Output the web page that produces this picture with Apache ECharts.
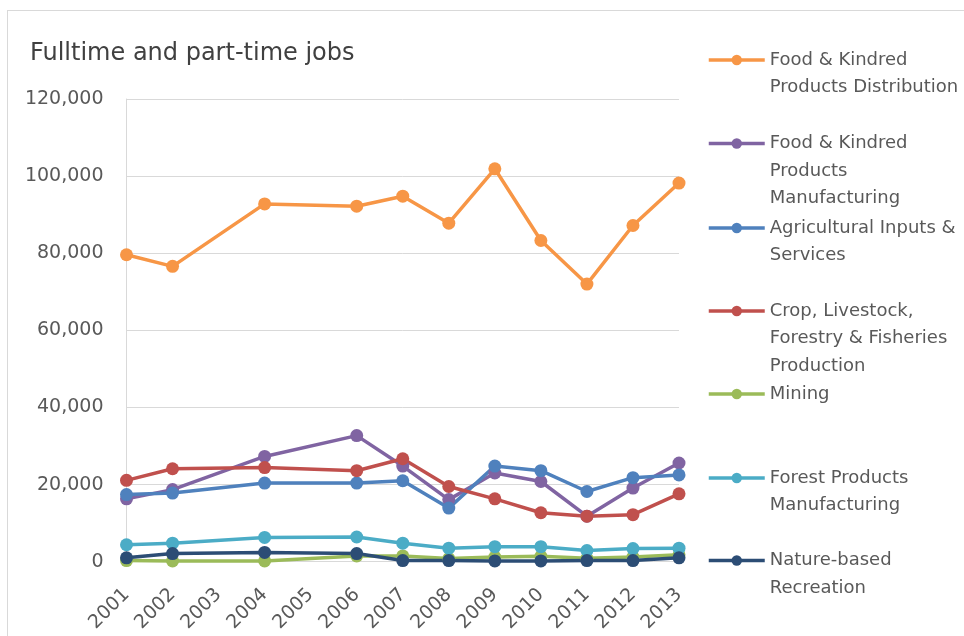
<!DOCTYPE html>
<html>
<head>
<meta charset="utf-8">
<script src="https://cdn.jsdelivr.net/npm/echarts@6/dist/echarts.min.js"></script>
<style>
html,body{margin:0;padding:0;background:#fff;}
#wrap{position:relative;width:964px;height:636px;overflow:hidden;}
#frame{position:absolute;left:7px;top:10px;width:1000px;height:700px;border:1px solid #d9d9d9;box-sizing:border-box;}
#chart{position:absolute;left:0;top:0;width:964px;height:636px;}
</style>
</head>
<body>
<div id="wrap"><div id="frame"></div><div id="chart"></div></div>
<script>
const years = ['2001','2002','2003','2004','2005','2006','2007','2008','2009','2010','2011','2012','2013'];
const yTicks = [0, 20000, 40000, 60000, 80000, 100000, 120000];

const seriesNames = [
  'Food & Kindred Products Distribution',
  'Food & Kindred Products Manufacturing',
  'Agricultural Inputs & Services',
  'Crop, Livestock, Forestry & Fisheries Production',
  'Mining',
  'Forest Products Manufacturing',
  'Nature-based Recreation'
];
const legendLabels = [
  'Food & Kindred\nProducts Distribution',
  'Food & Kindred\nProducts\nManufacturing',
  'Agricultural Inputs &\nServices',
  'Crop, Livestock,\nForestry & Fisheries\nProduction',
  'Mining',
  'Forest Products\nManufacturing',
  'Nature-based\nRecreation'
];

const foodDistribution = [79600, 76600, null, 92800, null, 92200, 94800, 87800, 101900, 83300, 72000, 87200, 98200];
const foodManufacturing = [16300, 18700, null, 27300, null, 32700, 24800, 16100, 23000, 20800, 11800, 19100, 25600];
const agInputs = [17400, 17800, null, 20400, null, 20400, 21000, 13900, 24800, 23600, 18200, 21800, 22500];
const cropLivestock = [21100, 24100, null, 24400, null, 23600, 26700, 19500, 16300, 12700, 11800, 12200, 17600];
const mining = [300, 200, null, 200, null, 1500, 1500, 800, 1200, 1400, 900, 1200, 1800];
const forestProducts = [4400, 4800, null, 6300, null, 6400, 4800, 3500, 3900, 3900, 2900, 3400, 3500];
const natureRecreation = [1000, 2100, null, 2400, null, 2100, 300, 300, 200, 200, 300, 300, 1000];

const seriesData = [foodDistribution, foodManufacturing, agInputs, cropLivestock, mining, forestProducts, natureRecreation];
const colors = ['#F79646', '#8064A2', '#4F81BD', '#C0504D', '#9BBB59', '#4BACC6', '#2C4D75'];

const legendY = [60, 143.5, 228, 311, 394, 478, 560.5];
const LH = 27.5;
const FONT = 'DejaVu Sans';

const legends = seriesNames.map(function (name, i) {
  const n = legendLabels[i].split('\n').length;
  // leading empty lines keep the first text line level with the legend icon
  const shown = '\n'.repeat(n - 1) + legendLabels[i];
  return {
    data: [name],
    orient: 'vertical',
    left: 707,
    top: legendY[i] - (2 * n - 1) * LH / 2,
    padding: 0,
    itemWidth: 56,
    itemHeight: 13,
    itemGap: 0,
    selectedMode: false,
    lineStyle: {width: 3.5},
    formatter: function () { return shown; },
    textStyle: {
      fontFamily: FONT,
      fontSize: 18,
      color: '#595959',
      lineHeight: LH
    }
  };
});

const chart = echarts.init(document.getElementById('chart'), null, {renderer: 'canvas'});
chart.setOption({
  backgroundColor: 'transparent',
  animation: false,
  color: colors,
  title: {
    text: 'Fulltime and part-time jobs',
    left: 30,
    top: 42,
    padding: 0,
    textStyle: {fontFamily: FONT, fontSize: 24, fontWeight: 'normal', color: '#404040'}
  },
  legend: legends,
  grid: {left: 126.5, right: 285, top: 99, bottom: 74.3, containLabel: false},
  xAxis: {
    type: 'category',
    data: years,
    boundaryGap: false,
    axisLine: {show: true, lineStyle: {color: '#d9d9d9', width: 1}},
    axisTick: {show: false},
    axisLabel: {
      rotate: 45,
      margin: 30,
      interval: 0,
      fontFamily: FONT,
      fontSize: 19,
      color: '#595959'
    },
    splitLine: {show: false}
  },
  yAxis: {
    type: 'value',
    min: yTicks[0],
    max: yTicks[yTicks.length - 1],
    interval: 20000,
    axisLine: {show: true, lineStyle: {color: '#d9d9d9', width: 1}},
    axisTick: {show: false},
    axisLabel: {
      margin: 23,
      fontFamily: FONT,
      fontSize: 19,
      color: '#595959',
      formatter: function (v) { return v.toLocaleString('en-US'); }
    },
    splitLine: {lineStyle: {color: '#d9d9d9', width: 1}}
  },
  series: seriesNames.map(function (name, i) {
    return {
      name: name,
      type: 'line',
      data: seriesData[i],
      connectNulls: true,
      symbol: 'circle',
      symbolSize: 13,
      showAllSymbol: true,
      lineStyle: {width: 3.5, color: colors[i]},
      itemStyle: {color: colors[i]},
      emphasis: {disabled: true}
    };
  })
});
</script>
</body>
</html>
